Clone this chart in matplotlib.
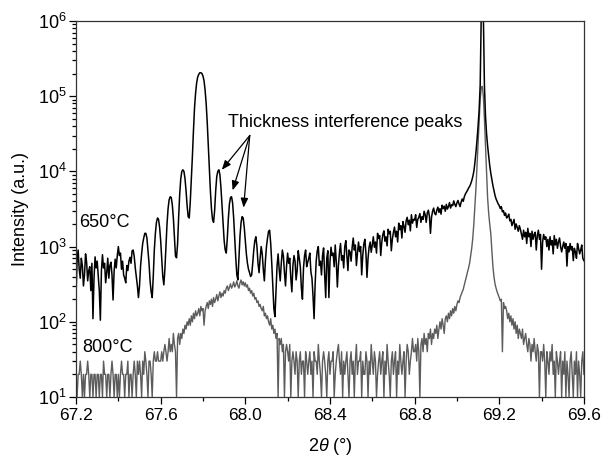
import numpy as np
import matplotlib
matplotlib.use("Agg")
import matplotlib.pyplot as plt
from matplotlib.ticker import MultipleLocator, LogLocator, LogFormatterMathtext, NullFormatter

plt.rcParams['font.family'] = ['Liberation Sans', 'DejaVu Sans']
plt.rcParams['mathtext.fontset'] = 'custom'
plt.rcParams['mathtext.rm'] = 'Liberation Sans'
plt.rcParams['mathtext.it'] = 'Liberation Sans:italic'
plt.rcParams['mathtext.default'] = 'regular'

# scan grid: 67.2 .. 69.6 deg, step 0.005 deg
two_theta_start = 67.2
two_theta_step = 0.005

# 650 C film, intensity (rows of 0.1 deg)
y650 = [
    220, 650, 900, 500, 380, 700, 560, 300, 420, 800, 620, 350, 480, 540, 260, 600, 110, 380, 730, 520,
    640, 400, 260, 105, 480, 780, 520, 600, 330, 450, 700, 380, 560, 620, 420, 195, 470, 680, 520, 760,
    1000, 760, 820, 500, 640, 420, 380, 330, 560, 480, 640, 720, 600, 880, 900, 740, 520, 400, 300, 210,
    300, 550, 800, 1100, 1300, 1500, 1500, 1300, 900, 600, 350, 250, 210, 400, 900, 1500, 2100, 2400, 2300, 1800,
    1200, 700, 400, 310, 500, 1000, 2000, 3200, 4200, 4600, 4500, 3600, 2400, 1300, 750, 710, 1100, 2500, 5000, 8000,
    10000, 10500, 10000, 8000, 5500, 3500, 2500, 2400, 4000, 8000, 16000, 35000, 70000, 110000, 150000, 180000, 195000, 205000, 205000, 200000,
    185000, 160000, 120000, 80000, 45000, 22000, 11000, 5500, 3200, 2300, 2100, 3000, 5500, 8500, 10000, 10500, 9000, 6000, 3500, 2000,
    1200, 900, 820, 1300, 2400, 3700, 4500, 4600, 3800, 2400, 1300, 700, 420, 360, 700, 1400, 2100, 2500, 2400, 1800,
    1200, 800, 600, 500, 450, 400, 420, 600, 900, 1200, 1350, 1000, 600, 450, 700, 1000, 800, 500, 350, 650,
    1000, 1300, 1600, 1650, 1100, 600, 300, 150, 117, 250, 550, 800, 500, 350, 600, 900, 750, 450, 300, 550,
    820, 600, 700, 380, 250, 560, 760, 640, 360, 480, 880, 700, 540, 280, 200, 520, 760, 900, 540, 620,
    700, 820, 460, 380, 220, 110, 320, 640, 880, 1000, 560, 640, 420, 760, 960, 420, 210, 700, 880, 210,
    620, 980, 760, 820, 540, 1050, 620, 290, 560, 840, 1100, 660, 760, 520, 1000, 1200, 760, 480, 900, 850,
    640, 980, 1300, 900, 1050, 560, 820, 1150, 860, 1000, 420, 760, 1080, 1250, 820, 390, 700, 980, 1150, 840,
    1050, 1350, 980, 1150, 820, 1500, 1280, 1400, 760, 1150, 1450, 1620, 1180, 1350, 1020, 1700, 1480, 1600, 880, 1260,
    1550, 1820, 1350, 1600, 1150, 2050, 1680, 1900, 1300, 2150, 1850, 1550, 2200, 2450, 1950, 2250, 1620, 2650, 2050, 2300,
    2250, 2650, 1800, 2300, 2450, 2750, 2100, 2500, 2300, 2950, 2650, 2100, 2800, 3050, 2550, 1500, 2450, 2950, 3250, 2750,
    2650, 3050, 3350, 2850, 3200, 2700, 3550, 3200, 3450, 2950, 3650, 3150, 3400, 3850, 3250, 3600, 3500, 4050, 3650, 3400,
    3800, 4100, 3700, 3400, 3900, 4300, 4000, 4600, 5000, 5300, 5600, 6000, 6300, 6800, 7500, 8500, 10000, 13000, 18000, 26000,
    40000, 65000, 140000, 1200000, 3000000, 1200000, 140000, 55000, 32000, 22000, 16000, 12000, 9500, 7800, 6500, 5600, 4800, 4300, 4000, 3700,
    3500, 3200, 3400, 2900, 3000, 2600, 2800, 2400, 2500, 2700, 2200, 2300, 1900, 2100, 2300, 1700, 2000, 1800, 1600, 1900,
    1700, 1450, 1250, 1650, 1350, 1550, 1100, 1750, 1350, 1500, 1000, 1600, 1250, 1450, 1550, 900, 1400, 1650, 1250, 1450,
    500, 1150, 1450, 1250, 1350, 1000, 1250, 900, 1350, 1050, 1200, 800, 1400, 1050, 1250, 950, 1150, 1300, 1000, 850,
    1000, 1150, 950, 1100, 550, 1000, 850, 1100, 900, 1000, 650, 950, 850, 700, 1100, 950, 800, 900, 1050, 700,
    650,
]

# 800 C film
y800 = [
    20, 10, 20, 20, 30, 20, 10, 20, 10, 20, 20, 30, 20, 10, 20, 20, 10, 20, 20, 10,
    20, 20, 10, 20, 20, 10, 30, 20, 20, 10, 20, 20, 10, 20, 30, 20, 10, 20, 20, 10,
    20, 10, 20, 30, 20, 20, 10, 20, 20, 30, 10, 20, 20, 10, 20, 30, 20, 10, 30, 20,
    30, 20, 10, 30, 20, 40, 30, 20, 10, 30, 30, 20, 10, 30, 40, 30, 30, 40, 30, 30,
    30, 40, 30, 40, 50, 40, 30, 40, 60, 40, 50, 40, 70, 50, 40, 10, 60, 70, 50, 70,
    60, 80, 70, 90, 80, 100, 90, 110, 90, 120, 100, 130, 110, 140, 120, 130, 150, 120, 160, 140,
    150, 90, 140, 160, 180, 150, 190, 170, 200, 160, 210, 180, 200, 230, 190, 220, 250, 210, 240, 220,
    260, 240, 280, 300, 260, 290, 320, 280, 300, 340, 290, 310, 350, 300, 280, 330, 360, 310, 340, 300,
    330, 290, 310, 260, 280, 240, 260, 220, 240, 200, 210, 180, 190, 160, 170, 150, 140, 160, 120, 130,
    110, 120, 100, 90, 110, 80, 90, 70, 80, 60, 70, 10, 60, 50, 60, 40, 50, 10, 40, 50,
    40, 30, 50, 10, 30, 40, 30, 20, 40, 30, 10, 30, 40, 20, 30, 30, 10, 40, 30, 20,
    30, 40, 20, 30, 10, 40, 30, 30, 20, 50, 30, 20, 10, 30, 40, 30, 20, 10, 30, 40,
    20, 30, 30, 40, 10, 20, 30, 40, 50, 30, 20, 40, 10, 30, 20, 30, 40, 20, 10, 30,
    40, 20, 30, 10, 30, 50, 20, 30, 30, 40, 10, 30, 20, 20, 40, 30, 10, 30, 20, 50,
    30, 20, 40, 30, 10, 20, 30, 40, 20, 30, 40, 10, 30, 20, 50, 30, 20, 10, 30, 40,
    20, 30, 40, 10, 30, 20, 50, 30, 20, 30, 40, 10, 30, 50, 40, 20, 30, 40, 60, 40,
    40, 50, 30, 60, 40, 10, 50, 60, 40, 70, 50, 60, 40, 70, 60, 80, 50, 70, 60, 80,
    70, 90, 60, 80, 100, 80, 110, 90, 70, 110, 120, 100, 130, 110, 140, 120, 150, 130, 160, 140,
    170, 190, 180, 210, 230, 250, 270, 310, 350, 400, 460, 520, 600, 750, 950, 1300, 2000, 3500, 6000, 12000,
    25000, 50000, 90000, 130000, 135000, 100000, 50000, 22000, 9000, 4500, 2800, 2000, 1500, 900, 550, 400, 320, 280, 250, 230,
    210, 190, 200, 40, 180, 150, 160, 140, 110, 130, 100, 120, 90, 110, 80, 100, 70, 90, 60, 80,
    70, 60, 80, 50, 60, 70, 50, 40, 60, 50, 30, 50, 40, 60, 40, 30, 50, 40, 10, 40,
    40, 30, 50, 30, 10, 40, 30, 20, 40, 30, 50, 20, 30, 10, 40, 30, 20, 30, 40, 10,
    30, 20, 40, 10, 30, 20, 10, 30, 40, 20, 10, 30, 20, 40, 10, 30, 20, 10, 30, 40,
    20,
]

two_theta = two_theta_start + two_theta_step * np.arange(len(y650))

fig = plt.figure(figsize=(6.01, 4.57), dpi=100)
ax = fig.add_axes([0.1265, 0.1313, 0.845, 0.8228])

ax.plot(two_theta, y800, color='#5c5c5c', lw=1.0)
ax.plot(two_theta, y650, color='black', lw=1.1)

ax.set_yscale('log')
ax.set_xlim(67.2, 69.6)
ax.set_ylim(10, 1e6)

ax.xaxis.set_major_locator(MultipleLocator(0.4))
ax.xaxis.set_minor_locator(MultipleLocator(0.2))
ax.xaxis.set_major_formatter(matplotlib.ticker.FormatStrFormatter('%.1f'))
ax.yaxis.set_major_locator(LogLocator(base=10, numticks=10))
ax.yaxis.set_minor_locator(LogLocator(base=10, subs=np.arange(2, 10), numticks=20))
ax.yaxis.set_major_formatter(LogFormatterMathtext())
ax.yaxis.set_minor_formatter(NullFormatter())
ax.tick_params(which='both', direction='out', top=False, right=False, width=0.9)
ax.tick_params(which='major', length=5)
ax.tick_params(which='minor', length=3)
ax.tick_params(axis='x', labelsize=12.5, pad=3)
ax.tick_params(axis='y', labelsize=13, pad=2)
for sp in ax.spines.values():
    sp.set_linewidth(0.9)
    sp.set_color('#333333')

ax.set_xlabel(r'2$\mathit{\theta}$ (°)', fontsize=13, labelpad=9)
ax.set_ylabel('Intensity (a.u.)', fontsize=13, labelpad=6)

ax.text(67.214, 2100, '650°C', fontsize=13, ha='left', va='center')
ax.text(67.228, 46, '800°C', fontsize=13, ha='left', va='center')

ax.text(67.917, 4.5e4, 'Thickness interference peaks', fontsize=13, ha='left', va='center')
arrow_tail = (68.021, 3.0e4)
arrow_tips = [(67.889, 1.05e4), (67.94, 5600), (67.992, 3300)]
for tip in arrow_tips:
    ax.annotate('', xy=tip, xytext=arrow_tail,
                arrowprops=dict(arrowstyle='-|>,head_length=0.55,head_width=0.22',
                                color='black', lw=0.9, shrinkA=0, shrinkB=0))

fig.savefig('out.png', dpi=100)
